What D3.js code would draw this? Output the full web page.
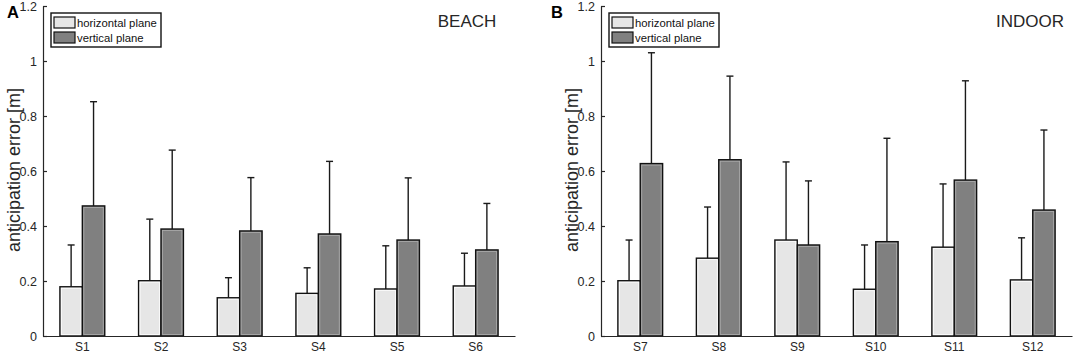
<!DOCTYPE html>
<html>
<head>
<meta charset="utf-8">
<script src="https://cdn.jsdelivr.net/npm/d3@7"></script>
<style>
  body { margin: 0; background: #fff; }
  svg { font-family: Arial, "Liberation Sans", sans-serif; }
</style>
</head>
<body>
<div id="wrapper"></div>
<script>
// data
const beachSubjects = ["S1", "S2", "S3", "S4", "S5", "S6"]
const beachHorizontal = [0.179, 0.201, 0.139, 0.155, 0.171, 0.182]
const beachHorizontalErr = [0.152, 0.224, 0.073, 0.093, 0.157, 0.119]
const beachVertical = [0.473, 0.389, 0.382, 0.371, 0.349, 0.313]
const beachVerticalErr = [0.379, 0.287, 0.194, 0.264, 0.226, 0.169]

const indoorSubjects = ["S7", "S8", "S9", "S10", "S11", "S12"]
const indoorHorizontal = [0.201, 0.283, 0.349, 0.170, 0.323, 0.204]
const indoorHorizontalErr = [0.148, 0.186, 0.284, 0.161, 0.230, 0.153]
const indoorVertical = [0.627, 0.641, 0.331, 0.343, 0.567, 0.458]
const indoorVerticalErr = [0.403, 0.304, 0.233, 0.376, 0.361, 0.291]

const yTicks = [0, 0.2, 0.4, 0.6, 0.8, 1, 1.2]
const seriesNames = ["horizontal plane", "vertical plane"]
const seriesColors = ["#e6e6e6", "#808080"]

const dimensions = { width: 1074, height: 355, yTop: 6, yBottom: 336 }

const wrapper = d3.select("#wrapper")
  .append("svg")
    .attr("width", dimensions.width)
    .attr("height", dimensions.height)

const yScale = d3.scaleLinear()
  .domain([0, 1.2])
  .range([dimensions.yBottom, dimensions.yTop])

function drawPanel(opts) {
  const g = wrapper.append("g")

  const xScale = d3.scaleBand()
    .domain(opts.subjects)
    .range([opts.x0, opts.x1])
    .paddingInner(0.43)
    .paddingOuter(0.215)

  const subScale = d3.scaleBand()
    .domain([0, 1])
    .range([0, xScale.bandwidth()])

  const rows = opts.subjects.map((s, i) => ({
    subject: s,
    values: [
      { k: 0, v: opts.h[i], e: opts.he[i] },
      { k: 1, v: opts.v[i], e: opts.ve[i] },
    ],
  }))
  const flat = rows.flatMap(r => r.values.map(d => ({ ...d, subject: r.subject })))

  // error bars (upper only), drawn first so bars sit on top
  const errs = g.append("g")
    .attr("stroke", "#1a1a1a")
    .attr("stroke-width", 1.4)
  const cx = d => xScale(d.subject) + subScale(d.k) + subScale.bandwidth() / 2
  errs.selectAll("line.stem")
    .data(flat).enter().append("line")
      .attr("class", "stem")
      .attr("x1", cx).attr("x2", cx)
      .attr("y1", d => yScale(d.v))
      .attr("y2", d => yScale(d.v + d.e))
  errs.selectAll("line.cap")
    .data(flat).enter().append("line")
      .attr("class", "cap")
      .attr("x1", d => cx(d) - 3.5).attr("x2", d => cx(d) + 3.5)
      .attr("y1", d => yScale(d.v + d.e))
      .attr("y2", d => yScale(d.v + d.e))

  // bars
  const bars = g.append("g")
  bars.selectAll("rect.bar")
    .data(flat).enter().append("rect")
      .attr("class", "bar")
      .attr("x", d => xScale(d.subject) + subScale(d.k))
      .attr("y", d => yScale(d.v))
      .attr("width", subScale.bandwidth())
      .attr("height", d => yScale(0) - yScale(d.v))
      .attr("fill", d => seriesColors[d.k])
      .attr("stroke", "#111")
      .attr("stroke-width", 1.4)
  // faint light inner edge seen on the bars
  bars.selectAll("rect.inner")
    .data(flat).enter().append("rect")
      .attr("class", "inner")
      .attr("x", d => xScale(d.subject) + subScale(d.k) + 1.5)
      .attr("y", d => yScale(d.v) + 1.5)
      .attr("width", subScale.bandwidth() - 3)
      .attr("height", d => Math.max(0, yScale(0) - yScale(d.v) - 3))
      .attr("fill", "none")
      .attr("stroke", "#fff")
      .attr("stroke-opacity", d => d.k === 0 ? 0.9 : 0.35)
      .attr("stroke-width", 0.8)

  // axes
  const yAxis = g.append("g")
    .attr("transform", `translate(${opts.x0},0)`)
    .call(d3.axisLeft(yScale).tickValues(yTicks).tickSizeInner(-4).tickSizeOuter(0)
      .tickFormat(d3.format("~g")))
  yAxis.select(".domain").attr("stroke", "#262626").attr("stroke-width", 1.2)
  yAxis.selectAll(".tick line").attr("stroke", "#262626").attr("stroke-width", 1.2)
  yAxis.selectAll(".tick text")
    .attr("x", -6)
    .attr("font-size", 12.5)
    .attr("fill", "#262626")

  const xAxis = g.append("g")
    .attr("transform", `translate(0,${dimensions.yBottom})`)
    .call(d3.axisBottom(xScale).tickSize(0).tickPadding(6))
  xAxis.select(".domain").attr("stroke", "#262626").attr("stroke-width", 1.2)
  xAxis.selectAll(".tick text")
    .attr("font-size", 12)
    .attr("fill", "#262626")

  g.append("text")
    .attr("transform", `translate(${opts.x0 - 37},${(dimensions.yTop + dimensions.yBottom) / 2 - 1}) rotate(-90)`)
    .attr("text-anchor", "middle")
    .attr("dy", "0.75em")
    .attr("font-size", 18)
    .attr("fill", "#262626")
    .text("anticipation error [m]")

  // panel letter and title
  g.append("text")
    .attr("x", opts.letterX)
    .attr("y", 18)
    .attr("font-size", 16.5)
    .attr("font-weight", "bold")
    .text(opts.letter)

  g.append("text")
    .attr("x", opts.titleX)
    .attr("y", 27)
    .attr("text-anchor", "middle")
    .attr("font-size", 17)
    .attr("fill", "#262626")
    .text(opts.title)

  // legend
  const legend = g.append("g")
    .attr("transform", `translate(${opts.x0 + 8},13)`)
  legend.append("rect")
    .attr("width", 110).attr("height", 34)
    .attr("fill", "#fff")
    .attr("stroke", "#111")
    .attr("stroke-width", 1.4)
  const items = legend.selectAll("g.item")
    .data(seriesNames).enter().append("g")
      .attr("class", "item")
      .attr("transform", (d, i) => `translate(3,${4 + i * 15})`)
  items.append("rect")
    .attr("width", 21).attr("height", 11)
    .attr("fill", (d, i) => seriesColors[i])
    .attr("stroke", "#111")
    .attr("stroke-width", 1.2)
  items.append("text")
    .attr("x", 23)
    .attr("y", 6)
    .attr("dy", "0.35em")
    .attr("font-size", 11.3)
    .attr("fill", "#111")
    .text(d => d)
}

drawPanel({
  subjects: beachSubjects,
  h: beachHorizontal, he: beachHorizontalErr,
  v: beachVertical, ve: beachVerticalErr,
  x0: 43, x1: 515,
  letter: "A", letterX: 7,
  title: "BEACH", titleX: 467,
})

drawPanel({
  subjects: indoorSubjects,
  h: indoorHorizontal, he: indoorHorizontalErr,
  v: indoorVertical, ve: indoorVerticalErr,
  x0: 601, x1: 1072,
  letter: "B", letterX: 551,
  title: "INDOOR", titleX: 1030,
})
</script>
</body>
</html>
